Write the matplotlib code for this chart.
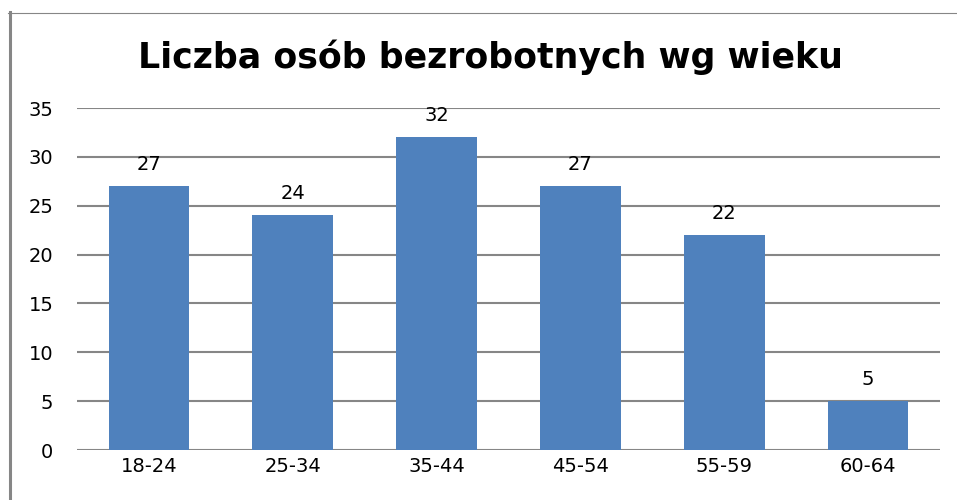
import matplotlib.pyplot as plt
from matplotlib.lines import Line2D

# dane
grupy_wieku = ["18-24", "25-34", "35-44", "45-54", "55-59", "60-64"]
liczba_osob = [27, 24, 32, 27, 22, 5]
tytul = "Liczba osób bezrobotnych wg wieku"

W, H = 957, 500
fig = plt.figure(figsize=(W / 100, H / 100), dpi=100)
fig.patch.set_facecolor("white")

# ramka wykresu (widoczna lewa i górna krawędź)
fig.add_artist(Line2D([9.5 / W, 9.5 / W], [0, 1 - 12 / H], transform=fig.transFigure,
                      color="#868686", linewidth=2.2))
fig.add_artist(Line2D([8 / W, 1], [1 - 12.5 / H, 1 - 12.5 / H], transform=fig.transFigure,
                      color="#868686", linewidth=0.8))

ax = fig.add_axes([77 / W, 1 - 450 / H, (940 - 77) / W, (450 - 108) / H])
x = range(len(grupy_wieku))
ax.bar(x, liczba_osob, width=0.56, color="#4F81BD", zorder=3)

ax.set_xlim(-0.5, len(grupy_wieku) - 0.5)
ax.set_ylim(0, 35)
ax.set_yticks(range(0, 36, 5))
ax.set_xticks(list(x))
ax.set_xticklabels(grupy_wieku)

for s in ax.spines.values():
    s.set_visible(False)
ax.grid(axis="y", color="#868686", linewidth=1.5, zorder=0)
ax.tick_params(axis="both", length=0, labelsize=14, colors="black")
ax.tick_params(axis="y", pad=17)
ax.tick_params(axis="x", pad=5)

for xi, v in zip(x, liczba_osob):
    ax.annotate(str(v), (xi, v), xytext=(0, 9), textcoords="offset points",
                ha="center", va="bottom", fontsize=14)

fig.text(490 / W, 1 - 57 / H, tytul, ha="center", va="center",
         fontsize=25, fontweight="bold", family="DejaVu Sans")

fig.savefig("out.png", dpi=100)
